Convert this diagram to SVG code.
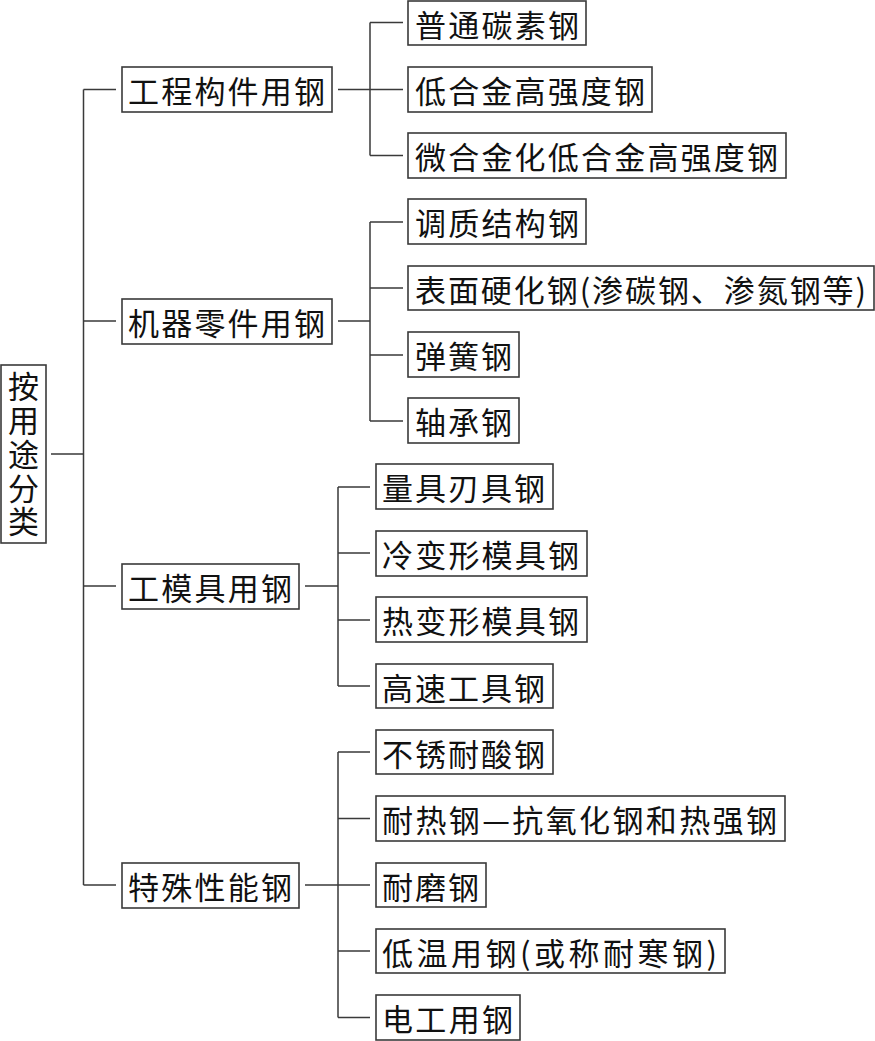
<svg xmlns="http://www.w3.org/2000/svg" width="875" height="1041" viewBox="0 0 875 1041">
<style>
rect{fill:#fff;stroke:#3a3a3a;stroke-width:1.6}
text{font-family:"Noto Sans CJK SC","Noto Sans CJK JP",sans-serif;font-size:31px;fill:#111;dominant-baseline:central}
.c path{fill:none;stroke:#3a3a3a;stroke-width:1.5}
</style>
<rect x="0" y="0" width="875" height="1041" style="fill:#fff;stroke:none"/>
<g class="c" id="connectors">
<path d="M51,454H83.5M83.5,89.5V885M83.5,89.5H116M83.5,321H116M83.5,586H116M83.5,885H116"/>
<path d="M338,89.5H370M370,22.5V155.5M370,22.5H403M370,89.5H403M370,155.5H403"/>
<path d="M338,321H370M370,222V421M370,222H403M370,288H403M370,355H403M370,421H403"/>
<path d="M305,586H338M338,487V686M338,487H370M338,553H370M338,620H370M338,686H370"/>
<path d="M305,885H338M338,752V1017.5M338,752H370M338,818.5H370M338,885H370M338,951H370M338,1017.5H370"/>
</g>
<g id="root"><rect x="1" y="365" width="45" height="178"/>
<text x="23.5" y="371" writing-mode="vertical-rl" textLength="166" lengthAdjust="spacing">按用途分类</text></g>
<g id="n1"><rect x="122" y="67" width="210" height="45"/><text x="128" y="89.5" textLength="197" lengthAdjust="spacing">工程构件用钢</text></g>
<g id="n2"><rect x="122" y="299" width="210" height="45"/><text x="128" y="321.5" textLength="197" lengthAdjust="spacing">机器零件用钢</text></g>
<g id="n3"><rect x="122" y="564" width="177" height="45"/><text x="128" y="586.5" textLength="164" lengthAdjust="spacing">工模具用钢</text></g>
<g id="n4"><rect x="122" y="863" width="177" height="45"/><text x="128" y="885.5" textLength="164" lengthAdjust="spacing">特殊性能钢</text></g>
<g id="n1a"><rect x="408" y="1" width="178" height="44"/><text x="415" y="23" textLength="164" lengthAdjust="spacing">普通碳素钢</text></g>
<g id="n1b"><rect x="408" y="67" width="244" height="45"/><text x="415" y="89.5" textLength="230" lengthAdjust="spacing">低合金高强度钢</text></g>
<g id="n1c"><rect x="408" y="133" width="378" height="45"/><text x="415" y="155.5" textLength="363" lengthAdjust="spacing">微合金化低合金高强度钢</text></g>
<g id="n2a"><rect x="408" y="199" width="178" height="45"/><text x="415" y="221.5" textLength="164" lengthAdjust="spacing">调质结构钢</text></g>
<g id="n2b"><rect x="408" y="266" width="466" height="44"/><text x="415" y="288" textLength="451" lengthAdjust="spacing">表面硬化钢(渗碳钢、渗氮钢等)</text></g>
<g id="n2c"><rect x="408" y="332" width="111" height="45"/><text x="415" y="354.5" textLength="97" lengthAdjust="spacing">弹簧钢</text></g>
<g id="n2d"><rect x="408" y="398" width="111" height="45"/><text x="415" y="420.5" textLength="97" lengthAdjust="spacing">轴承钢</text></g>
<g id="n3a"><rect x="376" y="464" width="177" height="45"/><text x="382" y="486.5" textLength="163" lengthAdjust="spacing">量具刃具钢</text></g>
<g id="n3b"><rect x="376" y="531" width="211" height="45"/><text x="382" y="553.5" textLength="197" lengthAdjust="spacing">冷变形模具钢</text></g>
<g id="n3c"><rect x="376" y="597" width="211" height="45"/><text x="382" y="619.5" textLength="197" lengthAdjust="spacing">热变形模具钢</text></g>
<g id="n3d"><rect x="376" y="664" width="177" height="44"/><text x="382" y="686" textLength="163" lengthAdjust="spacing">高速工具钢</text></g>
<g id="n4a"><rect x="376" y="730" width="177" height="44"/><text x="382" y="752" textLength="163" lengthAdjust="spacing">不锈耐酸钢</text></g>
<g id="n4b"><rect x="376" y="796" width="409" height="45"/><text x="382" y="818.5" textLength="395" lengthAdjust="spacing">耐热钢—抗氧化钢和热强钢</text></g>
<g id="n4c"><rect x="376" y="863" width="110" height="44"/><text x="382" y="885" textLength="97" lengthAdjust="spacing">耐磨钢</text></g>
<g id="n4d"><rect x="376" y="929" width="349" height="44"/><text x="382" y="951" textLength="335" lengthAdjust="spacing">低温用钢(或称耐寒钢)</text></g>
<g id="n4e"><rect x="376" y="995" width="144" height="45"/><text x="382" y="1017.5" textLength="131" lengthAdjust="spacing">电工用钢</text></g>
</svg>
